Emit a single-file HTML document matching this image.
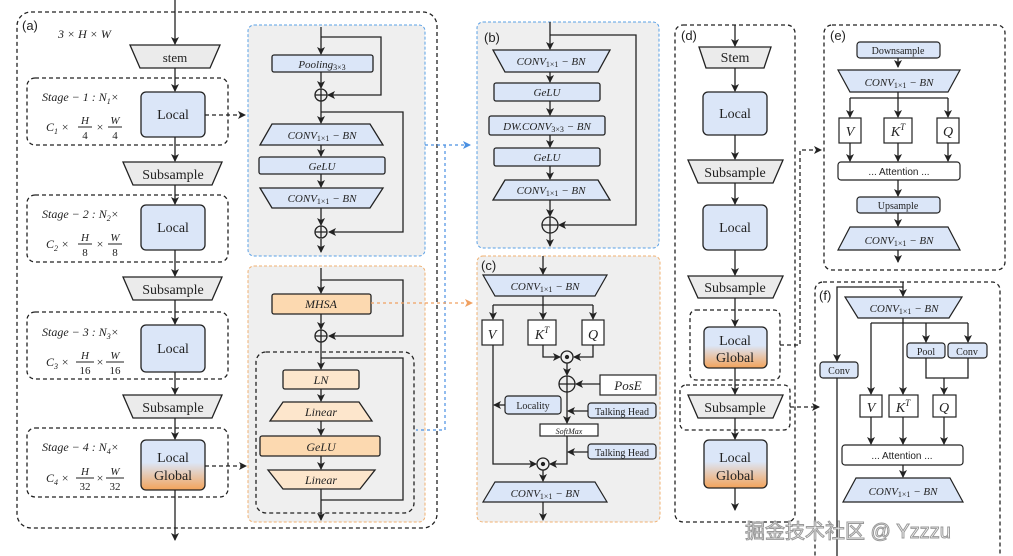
<!DOCTYPE html>
<html><head><meta charset="utf-8"><style>
html,body{margin:0;padding:0;background:#fff;}
svg{display:block;}
text{font-family:"Liberation Serif",serif;fill:#222;}
.i{font-style:italic;}
.s{font-family:"Liberation Sans",sans-serif;}
</style></head><body>
<svg width="1013" height="556" viewBox="0 0 1013 556" xmlns="http://www.w3.org/2000/svg">
<defs>
<marker id="a" markerWidth="8" markerHeight="8" refX="7" refY="4" orient="auto" markerUnits="userSpaceOnUse"><path d="M0,0 L8,4 L0,8 L2,4z" fill="#222"/></marker>
<marker id="ab" markerWidth="8" markerHeight="8" refX="7" refY="4" orient="auto" markerUnits="userSpaceOnUse"><path d="M0,0 L8,4 L0,8 L2,4z" fill="#4a90e2"/></marker>
<marker id="ao" markerWidth="8" markerHeight="8" refX="7" refY="4" orient="auto" markerUnits="userSpaceOnUse"><path d="M0,0 L8,4 L0,8 L2,4z" fill="#f0a060"/></marker>
<linearGradient id="lg" x1="0" y1="0" x2="0" y2="1"><stop offset="0" stop-color="#dbe6f8"/><stop offset="0.45" stop-color="#dbe6f8"/><stop offset="1" stop-color="#f3a35a"/></linearGradient>
</defs>
<g stroke="#222" stroke-width="1.3" fill="none">
<rect x="17" y="12" width="420" height="516" rx="14" stroke-dasharray="4,3"/>
<rect x="27" y="78" width="201" height="67" rx="8" stroke-dasharray="4,3"/>
<rect x="27" y="195" width="201" height="67" rx="8" stroke-dasharray="4,3"/>
<rect x="27" y="312" width="201" height="67" rx="8" stroke-dasharray="4,3"/>
<rect x="27" y="428" width="201" height="69" rx="8" stroke-dasharray="4,3"/>
<line x1="175" y1="0" x2="175" y2="44" marker-end="url(#a)"/>
<line x1="175" y1="68" x2="175" y2="91" marker-end="url(#a)"/>
<line x1="175" y1="137" x2="175" y2="161" marker-end="url(#a)"/>
<line x1="175" y1="185" x2="175" y2="204" marker-end="url(#a)"/>
<line x1="175" y1="250" x2="175" y2="276" marker-end="url(#a)"/>
<line x1="175" y1="300" x2="175" y2="324" marker-end="url(#a)"/>
<line x1="175" y1="372" x2="175" y2="394" marker-end="url(#a)"/>
<line x1="175" y1="418" x2="175" y2="439" marker-end="url(#a)"/>
<line x1="175" y1="490" x2="175" y2="540" marker-end="url(#a)"/>
<line x1="205" y1="115" x2="245" y2="115" stroke-dasharray="4,3" marker-end="url(#a)"/>
<line x1="205" y1="466" x2="246" y2="466" stroke-dasharray="4,3" marker-end="url(#a)"/>
<!-- fraction bars -->
<path d="M78,127h14M108,127h14M78,244h14M108,244h14M76,362h18M106,362h18M76,478h18M106,478h18" stroke-width="1"/>
</g>
<polygon points="130,45 220,45 210,68 140,68" fill="#ebebeb" stroke="#222" stroke-width="1.3"/>
<text x="175" y="62" font-size="13" text-anchor="middle">stem</text>
<g stroke="#222" stroke-width="1.3" fill="#ebebeb">
<polygon points="123,162 222,162 212,185 133,185"/>
<polygon points="123,277 222,277 212,300 133,300"/>
<polygon points="123,395 222,395 212,418 133,418"/>
</g>
<text x="173" y="179" font-size="14" text-anchor="middle">Subsample</text>
<text x="173" y="294" font-size="14" text-anchor="middle">Subsample</text>
<text x="173" y="412" font-size="14" text-anchor="middle">Subsample</text>
<g stroke="#222" stroke-width="1.3">
<rect x="141" y="92" width="64" height="45" rx="5" fill="#dbe6f8"/>
<rect x="141" y="205" width="64" height="45" rx="5" fill="#dbe6f8"/>
<rect x="141" y="325" width="64" height="47" rx="5" fill="#dbe6f8"/>
<rect x="141" y="440" width="64" height="50" rx="5" fill="url(#lg)"/>
</g>
<text x="173" y="119" font-size="14" text-anchor="middle">Local</text>
<text x="173" y="232" font-size="14" text-anchor="middle">Local</text>
<text x="173" y="353" font-size="14" text-anchor="middle">Local</text>
<text x="173" y="462" font-size="14" text-anchor="middle">Local</text>
<text x="173" y="480" font-size="14" text-anchor="middle">Global</text>
<text x="22" y="30" font-size="13" class="s">(a)</text>
<text x="58" y="38" font-size="12" class="i">3 × H × W</text>
<g font-size="12" class="i">
<text x="42" y="101">Stage − 1 : N<tspan font-size="8" dy="3">1</tspan><tspan dy="-3">×</tspan></text>
<text x="46" y="131">C<tspan font-size="8" dy="3">1</tspan><tspan dy="-3"> ×</tspan></text>
<text x="42" y="218">Stage − 2 : N<tspan font-size="8" dy="3">2</tspan><tspan dy="-3">×</tspan></text>
<text x="46" y="248">C<tspan font-size="8" dy="3">2</tspan><tspan dy="-3"> ×</tspan></text>
<text x="42" y="336">Stage − 3 : N<tspan font-size="8" dy="3">3</tspan><tspan dy="-3">×</tspan></text>
<text x="46" y="366">C<tspan font-size="8" dy="3">3</tspan><tspan dy="-3"> ×</tspan></text>
<text x="42" y="451">Stage − 4 : N<tspan font-size="8" dy="3">4</tspan><tspan dy="-3">×</tspan></text>
<text x="46" y="482">C<tspan font-size="8" dy="3">4</tspan><tspan dy="-3"> ×</tspan></text>
</g>
<g font-size="11" text-anchor="middle">
<text x="85" y="124" class="i">H</text><text x="85" y="139">4</text><text x="100" y="131" font-size="12">×</text><text x="115" y="124" class="i">W</text><text x="115" y="139">4</text>
<text x="85" y="241" class="i">H</text><text x="85" y="256">8</text><text x="100" y="248" font-size="12">×</text><text x="115" y="241" class="i">W</text><text x="115" y="256">8</text>
<text x="85" y="359" class="i">H</text><text x="85" y="374">16</text><text x="100" y="366" font-size="12">×</text><text x="115" y="359" class="i">W</text><text x="115" y="374">16</text>
<text x="85" y="475" class="i">H</text><text x="85" y="490">32</text><text x="100" y="482" font-size="12">×</text><text x="115" y="475" class="i">W</text><text x="115" y="490">32</text>
</g>

<!-- blue local block -->
<rect x="248" y="25" width="177" height="231" rx="6" fill="#efefef" stroke="#5aa0e6" stroke-dasharray="3,2"/>
<g stroke="#222" stroke-width="1.3" fill="none">
<line x1="321" y1="27" x2="321" y2="54" marker-end="url(#a)"/>
<polyline points="321,37 381,37 381,95 328,95" marker-end="url(#a)"/>
<line x1="321" y1="72" x2="321" y2="88" marker-end="url(#a)"/>
<line x1="321" y1="101" x2="321" y2="123" marker-end="url(#a)"/>
<polyline points="321,112 403,112 403,232 329,232" marker-end="url(#a)"/>
<line x1="321" y1="145" x2="321" y2="156" marker-end="url(#a)"/>
<line x1="321" y1="174" x2="321" y2="187" marker-end="url(#a)"/>
<line x1="321" y1="208" x2="321" y2="225" marker-end="url(#a)"/>
<line x1="321" y1="239" x2="321" y2="252" marker-end="url(#a)"/>
<circle cx="321" cy="95" r="6" fill="#efefef"/><path d="M315,95h12M321,89v12"/>
<circle cx="321" cy="232" r="6" fill="#efefef"/><path d="M315,232h12M321,226v12"/>
</g>
<g stroke="#222" stroke-width="1.3" fill="#dbe6f8">
<rect x="272" y="55" width="101" height="17" rx="2"/>
<polygon points="272,124 370,124 383,145 260,145"/>
<rect x="259" y="157" width="126" height="17" rx="2"/>
<polygon points="260,188 383,188 370,208 272,208"/>
</g>
<g font-size="11" class="i" text-anchor="middle">
<text x="322" y="68">Pooling<tspan font-size="8" dy="2" font-style="normal">3×3</tspan></text>
<text x="322" y="139">CONV<tspan font-size="8" dy="2" font-style="normal">1×1</tspan><tspan dy="-2"> − BN</tspan></text>
<text x="322" y="170">GeLU</text>
<text x="322" y="202">CONV<tspan font-size="8" dy="2" font-style="normal">1×1</tspan><tspan dy="-2"> − BN</tspan></text>
</g>

<!-- orange block -->
<rect x="248" y="266" width="177" height="256" rx="6" fill="#efefef" stroke="#f0b070" stroke-dasharray="3,2"/>
<rect x="256" y="352" width="158" height="161" rx="10" fill="none" stroke="#222" stroke-width="1.3" stroke-dasharray="4,3"/>
<g stroke="#222" stroke-width="1.3" fill="none">
<line x1="321" y1="268" x2="321" y2="293" marker-end="url(#a)"/>
<polyline points="321,280 403,280 403,336 329,336" marker-end="url(#a)"/>
<line x1="321" y1="314" x2="321" y2="329" marker-end="url(#a)"/>
<line x1="321" y1="342" x2="321" y2="369" marker-end="url(#a)"/>
<polyline points="321,358 403,358 403,500 321,500"/>
<line x1="321" y1="389" x2="321" y2="401" marker-end="url(#a)"/>
<line x1="321" y1="421" x2="321" y2="435" marker-end="url(#a)"/>
<line x1="321" y1="456" x2="321" y2="469" marker-end="url(#a)"/>
<line x1="321" y1="489" x2="321" y2="520" marker-end="url(#a)"/>
<circle cx="321" cy="336" r="6" fill="#efefef"/><path d="M315,336h12M321,330v12"/>
</g>
<g stroke="#222" stroke-width="1.3">
<rect x="272" y="294" width="99" height="20" rx="2" fill="#fcd9b0"/>
<rect x="283" y="370" width="76" height="19" rx="2" fill="#fde6cc"/>
<polygon points="283,402 359,402 372,421 270,421" fill="#fde6cc"/>
<rect x="260" y="436" width="120" height="20" rx="2" fill="#fcd9b0"/>
<polygon points="268,470 375,470 360,489 283,489" fill="#fde6cc"/>
</g>
<g font-size="12" class="i" text-anchor="middle">
<text x="321" y="308">MHSA</text>
<text x="321" y="384">LN</text>
<text x="321" y="416">Linear</text>
<text x="321" y="451">GeLU</text>
<text x="321" y="484">Linear</text>
</g>
<g fill="none" stroke-width="1.2" stroke-dasharray="3,3">
<polyline points="425,145 470,145" stroke="#4a90e2" marker-end="url(#ab)"/>
<polyline points="445,145 445,430 416,430" stroke="#4a90e2"/>
<line x1="371" y1="303" x2="472" y2="303" stroke="#f0a060" marker-end="url(#ao)"/>
</g>

<!-- panel b -->
<rect x="477" y="22" width="182" height="226" rx="6" fill="#efefef" stroke="#5aa0e6" stroke-dasharray="3,2"/>
<text x="484" y="42" font-size="13" class="s">(b)</text>
<g stroke="#222" stroke-width="1.3" fill="none">
<line x1="550" y1="22" x2="550" y2="49" marker-end="url(#a)"/>
<polyline points="550,35 636,35 636,225 559,225" marker-end="url(#a)"/>
<line x1="550" y1="72" x2="550" y2="82" marker-end="url(#a)"/>
<line x1="550" y1="101" x2="550" y2="115" marker-end="url(#a)"/>
<line x1="550" y1="135" x2="550" y2="147" marker-end="url(#a)"/>
<line x1="550" y1="166" x2="550" y2="179" marker-end="url(#a)"/>
<line x1="550" y1="200" x2="550" y2="216" marker-end="url(#a)"/>
<line x1="550" y1="233" x2="550" y2="246" marker-end="url(#a)"/>
<circle cx="550" cy="225" r="8" fill="#efefef"/><path d="M542,225h16M550,217v16"/>
</g>
<g stroke="#222" stroke-width="1.3" fill="#dbe6f8">
<polygon points="493,50 610,50 598,72 505,72"/>
<rect x="494" y="83" width="106" height="18" rx="2"/>
<rect x="489" y="116" width="116" height="19" rx="2"/>
<rect x="494" y="148" width="106" height="18" rx="2"/>
<polygon points="505,180 598,180 610,200 493,200"/>
</g>
<g font-size="11" class="i" text-anchor="middle">
<text x="551" y="65">CONV<tspan font-size="8" dy="2" font-style="normal">1×1</tspan><tspan dy="-2"> − BN</tspan></text>
<text x="547" y="96">GeLU</text>
<text x="547" y="130">DW.CONV<tspan font-size="8" dy="2" font-style="normal">3×3</tspan><tspan dy="-2"> − BN</tspan></text>
<text x="547" y="161">GeLU</text>
<text x="551" y="194">CONV<tspan font-size="8" dy="2" font-style="normal">1×1</tspan><tspan dy="-2"> − BN</tspan></text>
</g>

<!-- panel c -->
<rect x="477" y="256" width="183" height="266" rx="6" fill="#efefef" stroke="#f0b070" stroke-dasharray="3,2"/>
<text x="481" y="270" font-size="13" class="s">(c)</text>
<g stroke="#222" stroke-width="1.3" fill="none">
<line x1="543" y1="256" x2="543" y2="274" marker-end="url(#a)"/>
<line x1="543" y1="296" x2="543" y2="319" marker-end="url(#a)"/>
<polyline points="493,305 593,305"/>
<line x1="493" y1="305" x2="493" y2="319" marker-end="url(#a)"/>
<line x1="593" y1="305" x2="593" y2="319" marker-end="url(#a)"/>
<polyline points="543,345 543,357 560,357" marker-end="url(#a)"/>
<polyline points="593,345 593,357 574,357" marker-end="url(#a)"/>
<line x1="567" y1="363" x2="567" y2="375" marker-end="url(#a)"/>
<line x1="600" y1="384" x2="576" y2="384" marker-end="url(#a)"/>
<line x1="567" y1="392" x2="567" y2="423" marker-end="url(#a)"/>
<line x1="588" y1="411" x2="568" y2="411" marker-end="url(#a)"/>
<line x1="505" y1="405" x2="494" y2="405" marker-end="url(#a)"/>
<polyline points="493,345 493,464 536,464" marker-end="url(#a)"/>
<polyline points="567,436 567,464 550,464" marker-end="url(#a)"/>
<line x1="588" y1="452" x2="568" y2="452" marker-end="url(#a)"/>
<line x1="543" y1="470" x2="543" y2="481" marker-end="url(#a)"/>
<line x1="543" y1="502" x2="543" y2="520" marker-end="url(#a)"/>
<circle cx="567" cy="357" r="6" fill="#efefef"/><circle cx="567" cy="357" r="1.5" fill="#222"/>
<circle cx="567" cy="384" r="8" fill="#efefef"/><path d="M559,384h16M567,376v16"/>
<circle cx="543" cy="464" r="6" fill="#efefef"/><circle cx="543" cy="464" r="1.5" fill="#222"/>
</g>
<g stroke="#222" stroke-width="1.2">
<polygon points="483,275 607,275 595,296 495,296" fill="#dbe6f8"/>
<rect x="482" y="320" width="21" height="25" fill="#fff"/>
<rect x="528" y="320" width="28" height="25" fill="#fff"/>
<rect x="582" y="320" width="22" height="25" fill="#fff"/>
<rect x="600" y="375" width="56" height="20" fill="#fff"/>
<rect x="505" y="396" width="56" height="18" rx="3" fill="#dbe6f8"/>
<rect x="588" y="403" width="68" height="15" rx="3" fill="#dbe6f8"/>
<rect x="540" y="424" width="58" height="12" fill="#fff"/>
<rect x="588" y="444" width="68" height="15" rx="3" fill="#dbe6f8"/>
<polygon points="495,482 595,482 607,502 483,502" fill="#dbe6f8"/>
</g>
<g text-anchor="middle">
<text x="545" y="290" font-size="11" class="i">CONV<tspan font-size="8" dy="2" font-style="normal">1×1</tspan><tspan dy="-2"> − BN</tspan></text>
<text x="492" y="339" font-size="14" class="i">V</text>
<text x="542" y="339" font-size="14" class="i">K<tspan font-size="9" dy="-6">T</tspan></text>
<text x="593" y="339" font-size="14" class="i">Q</text>
<text x="628" y="390" font-size="13" class="i">PosE</text>
<text x="533" y="409" font-size="10">Locality</text>
<text x="622" y="415" font-size="10">Talking Head</text>
<text x="569" y="434" font-size="8" class="i">SoftMax</text>
<text x="622" y="456" font-size="10">Talking Head</text>
<text x="545" y="497" font-size="11" class="i">CONV<tspan font-size="8" dy="2" font-style="normal">1×1</tspan><tspan dy="-2"> − BN</tspan></text>
</g>

<!-- panel d -->
<rect x="675" y="25" width="120" height="497" rx="8" fill="none" stroke="#222" stroke-width="1.3" stroke-dasharray="4,3"/>
<rect x="690" y="310" width="90" height="70" rx="6" fill="none" stroke="#222" stroke-width="1.3" stroke-dasharray="4,3"/>
<rect x="680" y="385" width="110" height="45" rx="6" fill="none" stroke="#222" stroke-width="1.3" stroke-dasharray="4,3"/>
<text x="681" y="40" font-size="13" class="s">(d)</text>
<g stroke="#222" stroke-width="1.3" fill="none">
<line x1="735" y1="25" x2="735" y2="46" marker-end="url(#a)"/>
<line x1="735" y1="68" x2="735" y2="91" marker-end="url(#a)"/>
<line x1="735" y1="135" x2="735" y2="159" marker-end="url(#a)"/>
<line x1="735" y1="183" x2="735" y2="204" marker-end="url(#a)"/>
<line x1="735" y1="250" x2="735" y2="275" marker-end="url(#a)"/>
<line x1="735" y1="298" x2="735" y2="326" marker-end="url(#a)"/>
<line x1="735" y1="368" x2="735" y2="394" marker-end="url(#a)"/>
<line x1="735" y1="418" x2="735" y2="439" marker-end="url(#a)"/>
<line x1="735" y1="488" x2="735" y2="510" marker-end="url(#a)"/>
<polyline points="780,345 800,345 800,150 821,150" stroke-dasharray="4,3" marker-end="url(#a)"/>
<line x1="790" y1="407" x2="819" y2="407" stroke-dasharray="4,3" marker-end="url(#a)"/>
</g>
<g stroke="#222" stroke-width="1.3">
<polygon points="699,47 771,47 764,68 706,68" fill="#ebebeb"/>
<rect x="703" y="92" width="64" height="43" rx="5" fill="#dbe6f8"/>
<polygon points="688,160 783,160 773,183 698,183" fill="#ebebeb"/>
<rect x="703" y="205" width="64" height="45" rx="5" fill="#dbe6f8"/>
<polygon points="688,276 783,276 773,298 698,298" fill="#ebebeb"/>
<rect x="704" y="327" width="63" height="41" rx="5" fill="url(#lg)"/>
<polygon points="688,395 783,395 773,418 698,418" fill="#ebebeb"/>
<rect x="704" y="440" width="63" height="48" rx="5" fill="url(#lg)"/>
</g>
<g font-size="14" text-anchor="middle">
<text x="735" y="62">Stem</text>
<text x="735" y="118">Local</text>
<text x="735" y="177">Subsample</text>
<text x="735" y="232">Local</text>
<text x="735" y="292">Subsample</text>
<text x="735" y="345">Local</text>
<text x="735" y="362">Global</text>
<text x="735" y="412">Subsample</text>
<text x="735" y="462">Local</text>
<text x="735" y="480">Global</text>
</g>

<!-- panel e -->
<rect x="824" y="25" width="181" height="245" rx="8" fill="none" stroke="#222" stroke-width="1.3" stroke-dasharray="4,3"/>
<text x="830" y="40" font-size="13" class="s">(e)</text>
<g stroke="#222" stroke-width="1.3" fill="none">
<line x1="898" y1="58" x2="898" y2="67" marker-end="url(#a)"/>
<line x1="898" y1="92" x2="898" y2="117" marker-end="url(#a)"/>
<polyline points="850,98 948,98"/>
<line x1="850" y1="98" x2="850" y2="117" marker-end="url(#a)"/>
<line x1="948" y1="98" x2="948" y2="117" marker-end="url(#a)"/>
<line x1="850" y1="143" x2="850" y2="161" marker-end="url(#a)"/>
<line x1="898" y1="143" x2="898" y2="161" marker-end="url(#a)"/>
<line x1="948" y1="143" x2="948" y2="161" marker-end="url(#a)"/>
<line x1="898" y1="180" x2="898" y2="196" marker-end="url(#a)"/>
<line x1="898" y1="213" x2="898" y2="226" marker-end="url(#a)"/>
<line x1="898" y1="250" x2="898" y2="262" marker-end="url(#a)"/>
</g>
<g stroke="#222" stroke-width="1.2">
<rect x="857" y="42" width="83" height="16" rx="3" fill="#dbe6f8"/>
<polygon points="838,70 960,70 948,92 850,92" fill="#dbe6f8"/>
<rect x="839" y="118" width="22" height="25" fill="#fff"/>
<rect x="884" y="118" width="28" height="25" fill="#fff"/>
<rect x="937" y="118" width="22" height="25" fill="#fff"/>
<rect x="838" y="162" width="122" height="18" rx="3" fill="#fff"/>
<rect x="857" y="197" width="83" height="16" rx="3" fill="#dbe6f8"/>
<polygon points="850,227 948,227 960,250 838,250" fill="#dbe6f8"/>
</g>
<g text-anchor="middle">
<text x="898" y="54" font-size="10">Downsample</text>
<text x="899" y="86" font-size="11" class="i">CONV<tspan font-size="8" dy="2" font-style="normal">1×1</tspan><tspan dy="-2"> − BN</tspan></text>
<text x="850" y="136" font-size="14" class="i">V</text>
<text x="898" y="136" font-size="14" class="i">K<tspan font-size="9" dy="-6">T</tspan></text>
<text x="948" y="136" font-size="14" class="i">Q</text>
<text x="899" y="175" font-size="10" class="s">... Attention ...</text>
<text x="898" y="209" font-size="10">Upsample</text>
<text x="899" y="244" font-size="11" class="i">CONV<tspan font-size="8" dy="2" font-style="normal">1×1</tspan><tspan dy="-2"> − BN</tspan></text>
</g>

<!-- panel f -->
<rect x="815" y="282" width="185" height="290" rx="8" fill="none" stroke="#222" stroke-width="1.3" stroke-dasharray="4,3"/>
<text x="819" y="300" font-size="13" class="s">(f)</text>
<g stroke="#222" stroke-width="1.3" fill="none">
<line x1="903" y1="282" x2="903" y2="296" marker-end="url(#a)"/>
<polyline points="903,287 837,287 837,361" marker-end="url(#a)"/>
<line x1="837" y1="378" x2="837" y2="556"/>
<line x1="903" y1="318" x2="903" y2="394" marker-end="url(#a)"/>
<polyline points="871,323 968,323"/>
<line x1="871" y1="323" x2="871" y2="394" marker-end="url(#a)"/>
<line x1="926" y1="323" x2="926" y2="342" marker-end="url(#a)"/>
<line x1="968" y1="323" x2="968" y2="342" marker-end="url(#a)"/>
<polyline points="926,358 926,378 968,378 968,358"/>
<line x1="944" y1="378" x2="944" y2="394" marker-end="url(#a)"/>
<line x1="871" y1="417" x2="871" y2="444" marker-end="url(#a)"/>
<line x1="903" y1="417" x2="903" y2="444" marker-end="url(#a)"/>
<line x1="944" y1="417" x2="944" y2="444" marker-end="url(#a)"/>
<line x1="903" y1="465" x2="903" y2="477" marker-end="url(#a)"/>
</g>
<g stroke="#222" stroke-width="1.2">
<polygon points="845,297 962,297 949,318 858,318" fill="#dbe6f8"/>
<rect x="820" y="362" width="38" height="16" rx="3" fill="#dbe6f8"/>
<rect x="907" y="343" width="38" height="15" rx="3" fill="#dbe6f8"/>
<rect x="948" y="343" width="39" height="15" rx="3" fill="#dbe6f8"/>
<rect x="860" y="395" width="22" height="22" fill="#fff"/>
<rect x="889" y="395" width="29" height="22" fill="#fff"/>
<rect x="933" y="395" width="23" height="22" fill="#fff"/>
<rect x="842" y="445" width="121" height="20" rx="3" fill="#fff"/>
<polygon points="856,478 950,478 963,502 843,502" fill="#dbe6f8"/>
</g>
<g text-anchor="middle">
<text x="904" y="312" font-size="11" class="i">CONV<tspan font-size="8" dy="2" font-style="normal">1×1</tspan><tspan dy="-2"> − BN</tspan></text>
<text x="839" y="374" font-size="10">Conv</text>
<text x="926" y="355" font-size="10">Pool</text>
<text x="967" y="355" font-size="10">Conv</text>
<text x="871" y="412" font-size="14" class="i">V</text>
<text x="903" y="412" font-size="14" class="i">K<tspan font-size="9" dy="-6">T</tspan></text>
<text x="944" y="412" font-size="14" class="i">Q</text>
<text x="902" y="459" font-size="10" class="s">... Attention ...</text>
<text x="903" y="495" font-size="11" class="i">CONV<tspan font-size="8" dy="2" font-style="normal">1×1</tspan><tspan dy="-2"> − BN</tspan></text>
</g>

<text x="745" y="538" font-size="20" class="s" style="font-family:'Liberation Sans','Noto Sans CJK SC',sans-serif;fill:#fff;stroke:#999;stroke-width:1">掘金技术社区 @ Yzzzu</text>
</svg>
</body></html>
